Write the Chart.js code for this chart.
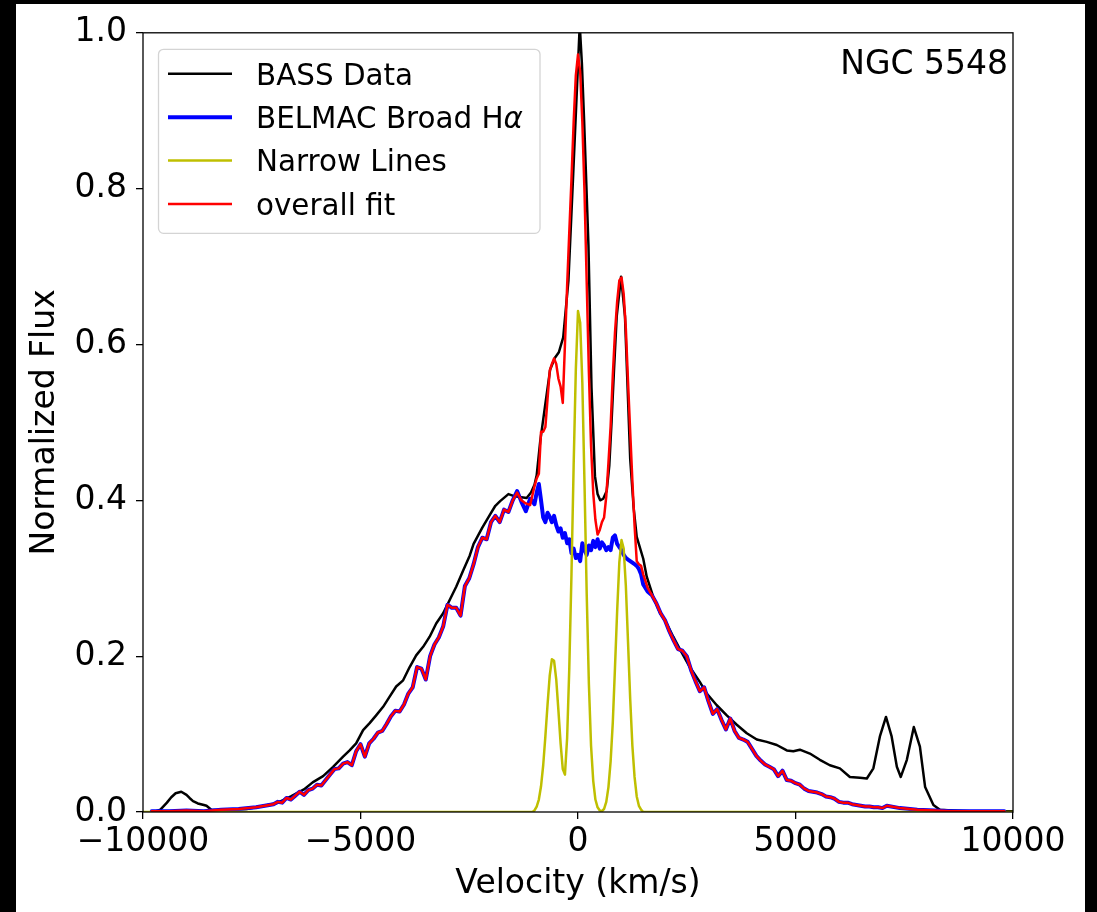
<!DOCTYPE html>
<html>
<head>
<meta charset="utf-8">
<title>NGC 5548 H-alpha fit</title>
<script src="https://cdn.jsdelivr.net/npm/chart.js@4.4.1/dist/chart.umd.min.js"></script>
<style>
    html, body { margin: 0; padding: 0; background: #000; }
    #wrap { position: absolute; left: 16px; top: 4px; width: 1069px; height: 908px; background: #fff; }
</style>
</head>
<body>
<div id="wrap"><canvas id="spectrumChart" width="1069" height="908"></canvas></div>
<script>
// BASS spectrum (black)
var bassVelocity = [-9750, -9600, -9450, -9350, -9250, -9120, -9000, -8930, -8850, -8740,
    -8600, -8540, -8430, -8200, -8000, -7600, -7200, -6900, -6600, -6300,
    -6100, -5860, -5630, -5400, -5250, -5100, -4940, -4790, -4640, -4480,
    -4330, -4180, -4020, -3870, -3720, -3560, -3410, -3260, -3100, -2950,
    -2800, -2640, -2490, -2400, -2200, -2020, -1900, -1790, -1600, -1500,
    -1410, -1300, -1180, -1080, -1000, -950, -870, -760, -640, -530,
    -440, -340, -220, -110, -20, 40, 90, 140, 240, 310,
    390, 450, 510, 580, 660, 720, 770, 830, 890, 990,
    1080, 1130, 1200, 1280, 1350, 1500, 1580, 1730, 1890, 2040,
    2190, 2350, 2570, 2800, 2960, 3190, 3420, 3650, 3880, 4110,
    4340, 4570, 4800, 4950, 5100, 5330, 5560, 5790, 6020, 6250,
    6480, 6640, 6790, 6940, 7080, 7210, 7330, 7420, 7560, 7720,
    7860, 7980, 8170, 8320, 8600, 9000, 9500, 10000];
var bassFlux = [0.000, 0.003, 0.012, 0.019, 0.024, 0.026, 0.022, 0.018, 0.014, 0.011,
    0.009, 0.008, 0.003, 0.002, 0.003, 0.004, 0.008, 0.012, 0.020, 0.029,
    0.038, 0.046, 0.058, 0.071, 0.079, 0.088, 0.105, 0.114, 0.124, 0.135,
    0.148, 0.161, 0.169, 0.186, 0.201, 0.212, 0.225, 0.242, 0.255, 0.272,
    0.289, 0.310, 0.329, 0.344, 0.365, 0.382, 0.393, 0.399, 0.408, 0.406,
    0.405, 0.404, 0.403, 0.410, 0.420, 0.432, 0.475, 0.520, 0.568, 0.583,
    0.590, 0.609, 0.682, 0.819, 0.934, 1.010, 0.960, 0.888, 0.728, 0.545,
    0.431, 0.408, 0.400, 0.402, 0.412, 0.445, 0.499, 0.570, 0.636, 0.687,
    0.636, 0.560, 0.453, 0.390, 0.353, 0.325, 0.302, 0.276, 0.255, 0.242,
    0.225, 0.208, 0.186, 0.167, 0.152, 0.137, 0.124, 0.112, 0.101, 0.093,
    0.090, 0.086, 0.079, 0.078, 0.080, 0.075, 0.067, 0.060, 0.056, 0.045,
    0.044, 0.043, 0.056, 0.097, 0.122, 0.097, 0.058, 0.045, 0.067, 0.109,
    0.084, 0.032, 0.009, 0.003, 0.002, 0.001, 0.001, 0.001];

// BELMAC broad component (blue) and overall fit (red) share one velocity grid
var broadVelocity = [-9800, -9400, -9000, -8600, -8200, -7800, -7400,
    -7000, -6900, -6800, -6700, -6600, -6500, -6400, -6300, -6200, -6100,
    -6000, -5900, -5800, -5700, -5600, -5500, -5400, -5300, -5200, -5100,
    -5000, -4900, -4800, -4700, -4600, -4500, -4400, -4300, -4200, -4100,
    -4000, -3900, -3800, -3700, -3600, -3500, -3400, -3300, -3200, -3100,
    -3000, -2900, -2800, -2700, -2600, -2500, -2400, -2300, -2200, -2100,
    -2000, -1900, -1800, -1700, -1600, -1500, -1400, -1300, -1200, -1100,
    -1000, -950, -900, -850, -800, -750, -700, -650, -600, -550,
    -500, -450, -400, -350, -300, -250, -200, -150, -100, -50,
    0, 50, 100, 150, 200, 250, 300, 350, 400, 450,
    500, 550, 600, 650, 700, 750, 800, 850, 900, 950,
    1000, 1050, 1100, 1150, 1200, 1250, 1300, 1350, 1400, 1450, 1500,
    1600, 1700, 1800, 1900, 2000, 2100, 2200, 2300, 2400, 2500,
    2600, 2700, 2800, 2900, 3000, 3100, 3200, 3300, 3400, 3500,
    3600, 3700, 3800, 3900, 4000, 4100, 4200, 4300, 4400, 4500,
    4600, 4700, 4800, 4900, 5000, 5100, 5200, 5300, 5400, 5500,
    5600, 5700, 5800, 5900, 6000, 6100, 6200, 6300, 6400, 6500,
    6600, 6700, 6800, 6900, 7000,
    7100, 7400, 7800, 8200, 8600, 9000, 9400, 9800];
var broadFlux = [0.001, 0.001, 0.002, 0.001, 0.003, 0.004, 0.006,
    0.010, 0.013, 0.012, 0.018, 0.016, 0.021, 0.026, 0.022, 0.028, 0.030,
    0.035, 0.034, 0.041, 0.048, 0.055, 0.056, 0.062, 0.064, 0.060, 0.078,
    0.087, 0.071, 0.088, 0.094, 0.102, 0.104, 0.113, 0.123, 0.130, 0.129,
    0.138, 0.152, 0.160, 0.186, 0.184, 0.170, 0.200, 0.215, 0.224, 0.238,
    0.266, 0.262, 0.262, 0.252, 0.290, 0.300, 0.318, 0.340, 0.352, 0.350,
    0.372, 0.380, 0.372, 0.388, 0.385, 0.400, 0.412, 0.398, 0.386, 0.402,
    0.395, 0.410, 0.421, 0.400, 0.378, 0.372, 0.384, 0.379, 0.372, 0.380,
    0.368, 0.360, 0.364, 0.352, 0.358, 0.345, 0.350, 0.332, 0.338, 0.326,
    0.330, 0.322, 0.345, 0.336, 0.330, 0.342, 0.336, 0.348, 0.340, 0.350,
    0.338, 0.346, 0.342, 0.336, 0.340, 0.336, 0.352, 0.355, 0.344, 0.340,
    0.336, 0.330, 0.326, 0.324, 0.322, 0.320, 0.318, 0.316, 0.312, 0.305, 0.292,
    0.283, 0.278, 0.268, 0.255, 0.246, 0.232, 0.220, 0.209, 0.207, 0.200,
    0.182, 0.168, 0.155, 0.160, 0.142, 0.126, 0.132, 0.118, 0.106, 0.120,
    0.104, 0.095, 0.093, 0.090, 0.081, 0.072, 0.066, 0.061, 0.058, 0.055,
    0.046, 0.053, 0.041, 0.040, 0.037, 0.035, 0.030, 0.027, 0.026, 0.025,
    0.023, 0.020, 0.019, 0.017, 0.013, 0.012, 0.012, 0.010, 0.009, 0.008,
    0.007, 0.007, 0.006, 0.006, 0.005,
    0.008, 0.005, 0.003, 0.002, 0.001, 0.001, 0.001, 0.001];
var fitFlux = [0.001, 0.001, 0.002, 0.001, 0.003, 0.004, 0.006,
    0.010, 0.013, 0.012, 0.018, 0.016, 0.021, 0.026, 0.022, 0.028, 0.030,
    0.035, 0.034, 0.041, 0.048, 0.055, 0.056, 0.062, 0.064, 0.060, 0.078,
    0.087, 0.071, 0.088, 0.094, 0.102, 0.104, 0.113, 0.123, 0.130, 0.129,
    0.138, 0.152, 0.160, 0.186, 0.184, 0.170, 0.200, 0.215, 0.224, 0.238,
    0.266, 0.262, 0.262, 0.252, 0.290, 0.300, 0.318, 0.340, 0.352, 0.350,
    0.372, 0.380, 0.372, 0.388, 0.385, 0.400, 0.410, 0.400, 0.396, 0.394,
    0.418, 0.428, 0.434, 0.488, 0.488, 0.494, 0.530, 0.566, 0.575, 0.582,
    0.575, 0.556, 0.546, 0.525, 0.600, 0.675, 0.745, 0.812, 0.885, 0.945,
    0.972, 0.950, 0.885, 0.795, 0.680, 0.565, 0.470, 0.410, 0.375, 0.356,
    0.362, 0.372, 0.378, 0.405, 0.448, 0.495, 0.560, 0.615, 0.655, 0.682,
    0.686, 0.665, 0.620, 0.552, 0.488, 0.425, 0.368, 0.322, 0.318, 0.316, 0.305,
    0.288, 0.278, 0.268, 0.255, 0.246, 0.232, 0.220, 0.209, 0.207, 0.200,
    0.182, 0.168, 0.155, 0.160, 0.142, 0.126, 0.132, 0.118, 0.106, 0.120,
    0.104, 0.095, 0.093, 0.090, 0.081, 0.072, 0.066, 0.061, 0.058, 0.055,
    0.046, 0.053, 0.041, 0.040, 0.037, 0.035, 0.030, 0.027, 0.026, 0.025,
    0.023, 0.020, 0.019, 0.017, 0.013, 0.012, 0.012, 0.010, 0.009, 0.008,
    0.007, 0.007, 0.006, 0.006, 0.005,
    0.008, 0.005, 0.003, 0.002, 0.001, 0.001, 0.001, 0.001];

// narrow lines ([NII] 6548, H-alpha narrow, [NII] 6583), yellow
var narrowVelocity = [-10000,
    -1050, -1000, -950, -900, -850, -800, -750, -700, -650, -600,
    -550, -500, -450, -400, -350, -300, -250, -200, -150, -100,
    -50, 0, 50, 100, 150, 200, 250, 300, 350, 400,
    450, 500, 550, 600, 650, 700, 750, 800, 850, 900,
    950, 1000, 1050, 1100, 1150, 1200, 1250, 1300, 1350, 1400,
    1450, 1500,
    10000];
var narrowFlux = [0,
    0.000, 0.002, 0.007, 0.016, 0.033, 0.060, 0.097, 0.138, 0.175, 0.196,
    0.194, 0.170, 0.130, 0.088, 0.055, 0.048, 0.095, 0.185, 0.305, 0.445,
    0.568, 0.643, 0.628, 0.550, 0.420, 0.280, 0.165, 0.085, 0.040, 0.016,
    0.006, 0.002, 0.001, 0.004, 0.013, 0.032, 0.065, 0.115, 0.185, 0.258,
    0.320, 0.349, 0.338, 0.290, 0.218, 0.145, 0.085, 0.045, 0.020, 0.008,
    0.003, 0.000,
    0];

var seriesLabels = ['BASS Data', 'BELMAC Broad H', 'Narrow Lines', 'overall fit'];
var seriesColors = ['#000000', '#0000ff', '#bfbf00', '#ff0000'];
var seriesWidths = [2.5, 4, 2.5, 2.5];
var xTicks = [-10000, -5000, 0, 5000, 10000];
var yTicks = [0.0, 0.2, 0.4, 0.6, 0.8, 1.0];
var objectName = 'NGC 5548';

var FONT = 'DejaVu Sans';

function toPoints(xs, ys) {
    return xs.map(function (x, i) { return { x: x, y: ys[i] }; });
}

// box around the plot area (matplotlib spines)
var framePlugin = {
    id: 'frame',
    afterDatasetsDraw: function (chart) {
        var a = chart.chartArea, c = chart.ctx;
        c.save();
        c.strokeStyle = '#000';
        c.lineWidth = 1.3;
        c.strokeRect(a.left, a.top, a.right - a.left, a.bottom - a.top);
        c.restore();
    }
};

// legend in the upper left corner with a rounded grey frame
var legendPlugin = {
    id: 'boxLegend',
    afterDraw: function (chart) {
        var a = chart.chartArea, c = chart.ctx;
        var bx = a.left + 15.5, by = a.top + 16.5, bw = 381.5, bh = 184, r = 5;
        c.save();
        c.beginPath();
        c.moveTo(bx + r, by);
        c.arcTo(bx + bw, by, bx + bw, by + bh, r);
        c.arcTo(bx + bw, by + bh, bx, by + bh, r);
        c.arcTo(bx, by + bh, bx, by, r);
        c.arcTo(bx, by, bx + bw, by, r);
        c.closePath();
        c.fillStyle = 'rgba(255,255,255,0.8)';
        c.fill();
        c.strokeStyle = '#d4d4d4';
        c.lineWidth = 1.3;
        c.stroke();

        c.textBaseline = 'alphabetic';
        c.textAlign = 'left';
        for (var i = 0; i < seriesLabels.length; i++) {
            var rowY = by + 24.5 + i * 43.4;
            c.strokeStyle = seriesColors[i];
            c.lineWidth = seriesWidths[i];
            c.beginPath();
            c.moveTo(bx + 9.5, rowY);
            c.lineTo(bx + 73.5, rowY);
            c.stroke();
            c.fillStyle = '#000';
            c.font = '29.4px "' + FONT + '"';
            c.fillText(seriesLabels[i], bx + 97.5, rowY + 10.7);
            if (i === 1) {
                // mathtext style italic alpha
                var w = c.measureText(seriesLabels[i]).width;
                c.font = 'italic 29.4px "' + FONT + '"';
                c.fillText('\u03b1', bx + 97.5 + w, rowY + 10.7);
            }
        }
        c.restore();
    }
};

// object name, upper right
var namePlugin = {
    id: 'objectName',
    afterDraw: function (chart) {
        var a = chart.chartArea, c = chart.ctx;
        c.save();
        c.font = '33px "' + FONT + '"';
        c.fillStyle = '#000';
        c.textAlign = 'right';
        c.textBaseline = 'alphabetic';
        c.fillText(objectName, a.right - 5, a.top + 41);
        c.restore();
    }
};

document.addEventListener("DOMContentLoaded", function () {
    var ctx = document.getElementById('spectrumChart').getContext('2d');

    var chart = new Chart(ctx, {
        type: 'line',
        data: {
            datasets: [{
                label: seriesLabels[0],
                data: toPoints(bassVelocity, bassFlux),
                borderColor: seriesColors[0],
                borderWidth: seriesWidths[0],
                order: 4
            },
            {
                label: seriesLabels[1],
                data: toPoints(broadVelocity, broadFlux),
                borderColor: seriesColors[1],
                borderWidth: seriesWidths[1],
                order: 3
            },
            {
                label: seriesLabels[2],
                data: toPoints(narrowVelocity, narrowFlux),
                borderColor: seriesColors[2],
                borderWidth: seriesWidths[2],
                order: 2
            },
            {
                label: seriesLabels[3],
                data: toPoints(broadVelocity, fitFlux),
                borderColor: seriesColors[3],
                borderWidth: seriesWidths[3],
                order: 1
            }]
        },
        options: {
            responsive: false,
            animation: false,
            elements: {
                point: { radius: 0 },
                line: { tension: 0, fill: false, borderJoinStyle: 'round', borderCapStyle: 'round' }
            },
            layout: { padding: { left: 0, top: 28, right: 72, bottom: 0 } },
            plugins: {
                legend: { display: false },
                tooltip: { enabled: false }
            },
            scales: {
                x: {
                    type: 'linear',
                    min: xTicks[0],
                    max: xTicks[xTicks.length - 1],
                    afterBuildTicks: function (s) {
                        s.ticks = xTicks.map(function (v) { return { value: v }; });
                    },
                    ticks: {
                        color: '#000',
                        font: { family: FONT, size: 33 },
                        padding: 4,
                        maxRotation: 0,
                        autoSkip: false,
                        callback: function (v) {
                            return v < 0 ? '\u2212' + Math.abs(v) : String(v);
                        }
                    },
                    grid: {
                        drawOnChartArea: false,
                        drawTicks: true,
                        tickLength: 7,
                        color: '#000',
                        lineWidth: 1.3
                    },
                    border: { display: false },
                    title: {
                        display: true,
                        text: 'Velocity (km/s)',
                        color: '#000',
                        font: { family: FONT, size: 33 },
                        padding: { top: 0, bottom: 8 }
                    },
                    afterFit: function (s) { s.height = 100; }
                },
                y: {
                    type: 'linear',
                    min: yTicks[0],
                    max: yTicks[yTicks.length - 1],
                    afterBuildTicks: function (s) {
                        s.ticks = yTicks.map(function (v) { return { value: v }; });
                    },
                    ticks: {
                        color: '#000',
                        font: { family: FONT, size: 33 },
                        padding: 9,
                        autoSkip: false,
                        callback: function (v) { return v.toFixed(1); }
                    },
                    grid: {
                        drawOnChartArea: false,
                        drawTicks: true,
                        tickLength: 7,
                        color: '#000',
                        lineWidth: 1.3
                    },
                    border: { display: false },
                    title: {
                        display: true,
                        text: 'Normalized Flux',
                        color: '#000',
                        font: { family: FONT, size: 33 },
                        padding: { top: 10, bottom: 0 }
                    },
                    afterFit: function (s) { s.width = 127; }
                }
            }
        },
        plugins: [framePlugin, legendPlugin, namePlugin]
    });
});
</script>
</body>
</html>
